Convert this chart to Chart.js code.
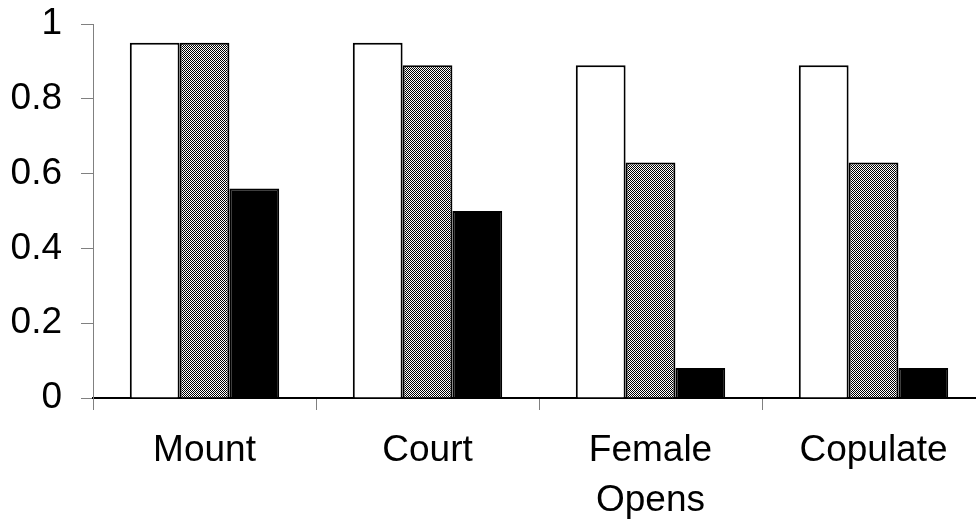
<!DOCTYPE html>
<html>
<head>
<meta charset="utf-8">
<script src="https://cdn.jsdelivr.net/npm/chart.js@4/dist/chart.umd.min.js"></script>
<style>
  html, body { margin: 0; padding: 0; background: #fff; overflow: hidden; }
  #wrap { width: 1000px; height: 525px; }
</style>
</head>
<body>
<div id="wrap"><canvas id="chart" width="1000" height="525"></canvas></div>
<script>
const categories = ['Mount', 'Court', ['Female', 'Opens'], 'Copulate'];
const seriesWhite = [0.95, 0.95, 0.89, 0.89];
const seriesGray = [0.95, 0.89, 0.63, 0.63];
const seriesBlack = [0.56, 0.5, 0.08, 0.08];

// dithered grey fill like the old Excel pattern
const makeChecker = () => {
    const c = document.createElement('canvas');
    c.width = 2; c.height = 2;
    const ctx = c.getContext('2d');
    ctx.fillStyle = '#fff';
    ctx.fillRect(0, 0, 2, 2);
    ctx.fillStyle = '#000';
    ctx.fillRect(0, 0, 1, 1);
    ctx.fillRect(1, 1, 1, 1);
    return ctx.createPattern(c, 'repeat');
};

const FONT = { family: '"Liberation Sans", Arial, sans-serif', size: 37, lineHeight: 1.35 };

new Chart(document.getElementById('chart'), {
    type: 'bar',
    data: {
        labels: categories,
        datasets: [
            { data: seriesWhite, backgroundColor: '#fff', borderColor: '#000', borderWidth: 2 },
            { data: seriesGray, backgroundColor: makeChecker(), borderColor: '#000', borderWidth: 2 },
            { data: seriesBlack, backgroundColor: '#000', borderColor: '#000', borderWidth: 2 }
        ]
    },
    options: {
        responsive: false,
        animation: false,
        devicePixelRatio: 1,
        layout: { padding: { top: 24, right: 15, left: 0, bottom: 0 } },
        datasets: { bar: { barPercentage: 1, categoryPercentage: 0.67, borderSkipped: 'bottom' } },
        plugins: { legend: { display: false }, tooltip: { enabled: false } },
        scales: {
            x: {
                grid: { offset: true, drawOnChartArea: false, drawTicks: true, tickLength: 12, color: '#808080' },
                border: { color: '#000', width: 2 },
                ticks: { color: '#000', font: FONT, padding: 16, maxRotation: 0 },
                afterFit: s => { s.height = 127; s.paddingLeft = 0; s.paddingRight = 0; }
            },
            y: {
                min: 0, max: 1,
                grid: { drawOnChartArea: false, drawTicks: true, tickLength: 12, color: '#808080' },
                border: { color: '#808080', width: 1 },
                ticks: {
                    stepSize: 0.2, color: '#000', font: FONT, padding: 19,
                    callback: v => String(+v.toFixed(1))
                },
                afterFit: s => { s.width = 93; s.paddingTop = 0; s.paddingBottom = 0; }
            }
        }
    }
});
</script>
</body>
</html>
